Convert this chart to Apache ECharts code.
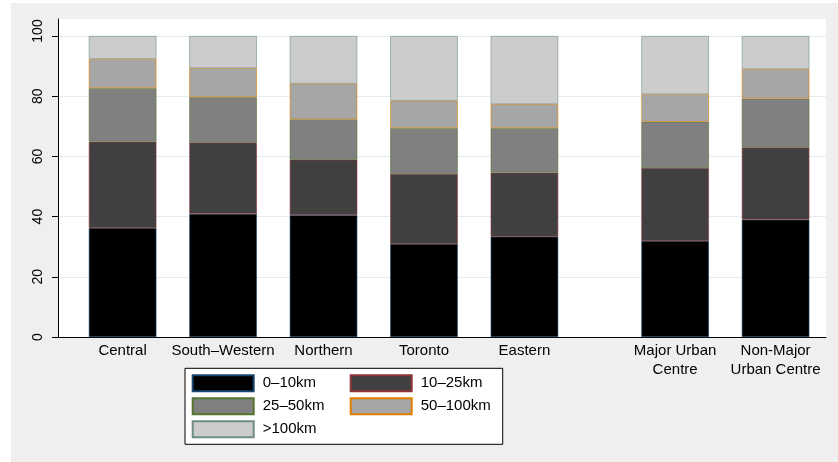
<!DOCTYPE html>
<html>
<head>
<meta charset="utf-8">
<script src="https://cdn.jsdelivr.net/npm/echarts@6/dist/echarts.min.js"></script>
<style>
  html, body { margin: 0; padding: 0; background: #ffffff; }
  #chart { position: absolute; left: 11px; top: 3px; width: 827px; height: 459px; }
</style>
</head>
<body>
<div id="chart"></div>
<script>
// ---- data ----
const categories = ['Central', 'South\u2013Western', 'Northern', 'Toronto', 'Eastern', 'Major Urban\nCentre', 'Non-Major\nUrban Centre'];
const groups = ['region', 'region', 'region', 'region', 'region', 'urban', 'urban'];
const seriesNames = ['0\u201310km', '10\u201325km', '25\u201350km', '50\u2013100km', '>100km'];
const d0_10   = [36.2, 40.9, 40.5, 30.9, 33.3, 31.9, 39.0];
const d10_25  = [28.7, 23.7, 18.4, 23.3, 21.3, 24.3, 24.0];
const d25_50  = [17.8, 15.1, 13.4, 15.2, 14.8, 15.3, 16.2];
const d50_100 = [9.7, 9.6, 11.9, 9.1, 8.0, 9.2, 9.8];
const d100p   = [7.6, 10.7, 15.8, 21.5, 22.6, 19.3, 11.0];
const yTicks = [0, 20, 40, 60, 80, 100];

// ---- style ----
const fills = ['#000000', '#404040', '#808080', '#a6a6a6', '#cccccc'];
const borders = ['#1a476f', '#90353b', '#55752f', '#e37e00', '#6e8e84'];
const FONT = "'Liberation Sans', Arial, Helvetica, sans-serif";
const NARROW = "'Liberation Sans Narrow', 'Arial Narrow', 'Liberation Sans', Arial, sans-serif";
const Y_MAX = 105.65;

// Build slot layout: one blank slot between bars, two between groups
const slotLabels = [];
const slotIndex = [];
categories.forEach((c, i) => {
  if (i > 0) {
    slotLabels.push('');
    if (groups[i] !== groups[i - 1]) slotLabels.push('');
  }
  slotIndex.push(slotLabels.length);
  slotLabels.push(c);
});
function toSlots(arr) {
  const out = slotLabels.map(() => null);
  arr.forEach((v, i) => { out[slotIndex[i]] = v; });
  return out;
}
const allData = [d0_10, d10_25, d25_50, d50_100, d100p];

const chart = echarts.init(document.getElementById('chart'), null, { renderer: 'canvas' });
const option = {
  backgroundColor: '#efefef',
  animation: false,
  textStyle: { fontFamily: FONT },
  grid: [
    { left: 47, right: 12, top: 16, bottom: 125, show: true, backgroundColor: '#ffffff', borderWidth: 0,
      containLabel: false, outerBoundsMode: 'none' },
    { left: 86.5, right: 37.3, top: 16, bottom: 125, containLabel: false, outerBoundsMode: 'none' }
  ],
  xAxis: [
    { gridIndex: 0, type: 'value', min: 0, max: 1,
      axisLine: { show: true, onZero: false, lineStyle: { color: '#000', width: 1 } },
      axisTick: { show: false }, axisLabel: { show: false }, splitLine: { show: false } },
    { gridIndex: 1, type: 'category', data: slotLabels,
      axisLine: { show: false }, axisTick: { show: false }, splitLine: { show: false },
      axisLabel: { interval: 0, color: '#000', fontSize: 15, lineHeight: 18.5, margin: 5, fontFamily: FONT } }
  ],
  yAxis: [
    { gridIndex: 0, type: 'value', min: 0, max: Y_MAX, interval: 20,
      axisLine: { show: true, lineStyle: { color: '#000', width: 1 } },
      axisTick: { show: true, length: 6, customValues: yTicks, lineStyle: { color: '#000' } },
      axisLabel: { show: true, rotate: 90, margin: 13, color: '#000', fontSize: 14, fontFamily: NARROW, customValues: yTicks,
        formatter: v => (v === 100 ? '{p|100}' : String(v)),
        rich: { p: { padding: [0, 0, 0, 10], fontSize: 14, fontFamily: NARROW, color: '#000' } } },
      splitLine: { show: true, lineStyle: { color: '#e3ecee', width: 1 } } },
    { gridIndex: 1, type: 'value', min: 0, max: Y_MAX, show: false, splitLine: { show: false } }
  ],
  legend: {
    left: 174, top: 365.3, width: 320,
    orient: 'horizontal',
    data: seriesNames,
    itemWidth: 61, itemHeight: 16, itemGap: 5,
    padding: [6, 0, 6, 6.7],
    backgroundColor: '#ffffff', borderColor: '#000', borderWidth: 1, borderRadius: 0,
    icon: 'rect',
    textStyle: { color: '#000', fontSize: 15, fontFamily: FONT, width: 82, lineHeight: 17.5, padding: [0, 0, 0, 4] }
  },
  series: allData.map((arr, k) => ({
    name: seriesNames[k],
    type: 'bar',
    stack: 'total',
    xAxisIndex: 1, yAxisIndex: 1,
    barWidth: 67.5,
    barMinWidth: 67.5,
    clip: false,
    data: toSlots(arr),
    itemStyle: { color: fills[k], borderColor: borders[k], borderWidth: 0.6 },
    emphasis: { disabled: true }
  }))
};
chart.setOption(option);
</script>
</body>
</html>
